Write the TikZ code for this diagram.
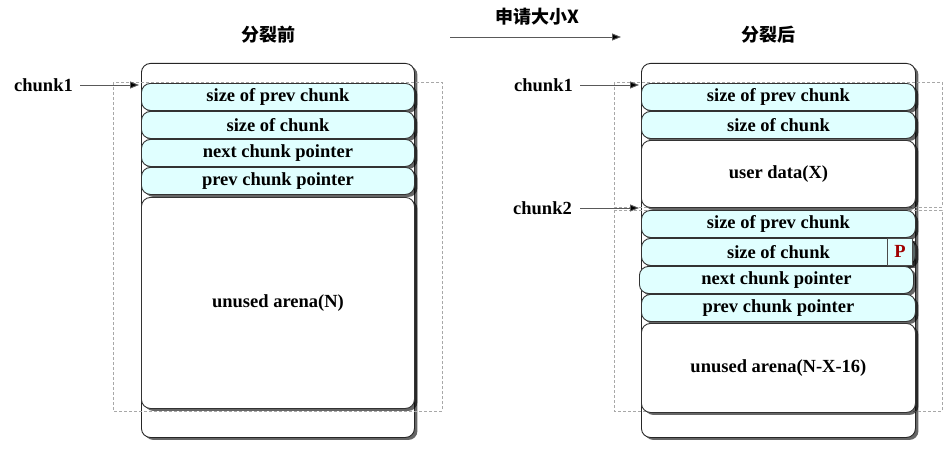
\documentclass[tikz,border=0pt]{standalone}
\usepackage{fontspec}
\setmainfont{Liberation Serif}
\newfontfamily\cjk{Noto Sans CJK SC}
\usetikzlibrary{shadows,arrows.meta}
\definecolor{cyanfill}{HTML}{E0FFFF}
\definecolor{dashgray}{HTML}{A8A8A8}
\definecolor{pred}{HTML}{A00000}
\begin{document}
\begin{tikzpicture}[x=1pt,y=-1pt,
 every node/.style={font=\bfseries\fontsize{18.5}{20}\selectfont, inner sep=0pt},
 shad/.style={drop shadow={shadow xshift=3pt,shadow yshift=-2.5pt,opacity=0.6,fill=black}},
 outerbox/.style={draw=black!85,fill=white,rounded corners=9pt,line width=0.9pt,shad,anchor=north west},
 strip/.style={draw=black!80,fill=cyanfill,rounded corners=9pt,line width=0.9pt,shad,anchor=north west},
 blank/.style={draw=black!80,fill=white,rounded corners=9pt,line width=0.9pt,shad,anchor=north west},
 pbox/.style={draw=black!70,fill=cyanfill,line width=0.8pt,shad,anchor=north west,text=pred},
 frame/.style={draw=dashgray,line width=0.9pt,dash pattern=on 3pt off 2pt},
 ptr/.style={draw=black!65,line width=0.9pt,-{Triangle[length=9pt,width=7pt,fill=black]}},
 lbl/.style={anchor=east},
 title/.style={font=\cjk\bfseries\fontsize{18}{20}\selectfont}
]
\useasboundingbox[fill=white] (0,0) rectangle (945,452);
% titles
\node[title] (t1) at (268,35) {分裂前};
\node[title] (t2) at (768,35) {分裂后};
\coordinate (ra) at (450,37);
\coordinate (rb) at (621,37);
\draw[ptr] (ra) -- (rb);
\node[title] (req) at (537,17) {申请大小X};

% ---------- left ----------
\node[outerbox,minimum width=273pt,minimum height=374pt] (L0) at (141,63) {};
\draw[frame] (113,82) rectangle (442,411);
\node[strip,minimum width=273pt,minimum height=27pt] (L1) at (141,83) {size of prev chunk};
\node[strip,minimum width=273pt,minimum height=27pt] (L2) at (141,111) {size of chunk};
\node[strip,minimum width=273pt,minimum height=27pt] (L3) at (141,139) {next chunk pointer};
\node[strip,minimum width=273pt,minimum height=27pt] (L4) at (141,167) {prev chunk pointer};
\node[blank,minimum width=273pt,minimum height=211pt] (L5) at (141,197) {unused arena(N)};
\node[lbl] (c1L) at (73,85) {chunk1};
\coordinate (c1Lt) at (139,85);
\draw[ptr] (c1L.east) ++(7pt,0) -- (c1Lt);

% ---------- right ----------
\node[outerbox,minimum width=274pt,minimum height=374pt] (R0) at (641,63) {};
\draw[frame] (614,82) rectangle (942,207);
\draw[frame] (614,210) rectangle (942,411);
\node[strip,minimum width=274pt,minimum height=27pt] (R1) at (641,83) {size of prev chunk};
\node[strip,minimum width=274pt,minimum height=27pt] (R2) at (641,111) {size of chunk};
\node[blank,minimum width=274pt,minimum height=67pt] (R3) at (641,140) {user data(X)};
\node[strip,minimum width=274pt,minimum height=27pt] (R4) at (641,210) {size of prev chunk};
\node[strip,minimum width=274pt,minimum height=27pt] (R5) at (641,238) {size of chunk};
\node[pbox,minimum width=25pt,minimum height=27pt] (P) at (887,238) {P};
\node[strip,minimum width=274pt,minimum height=27pt] (R6) at (639,266) {next chunk pointer};
\node[strip,minimum width=274pt,minimum height=27pt] (R7) at (641,294) {prev chunk pointer};
\node[blank,minimum width=274pt,minimum height=89pt] (R8) at (641,323) {unused arena(N-X-16)};
\node[lbl] (c1R) at (573,85) {chunk1};
\coordinate (c1Rt) at (639,85);
\draw[ptr] (c1R.east) ++(7pt,0) -- (c1Rt);
\node[lbl] (c2R) at (572,208) {chunk2};
\coordinate (c2Rt) at (639,208);
\draw[ptr] (c2R.east) ++(8pt,0) -- (c2Rt);
\end{tikzpicture}
\end{document}
